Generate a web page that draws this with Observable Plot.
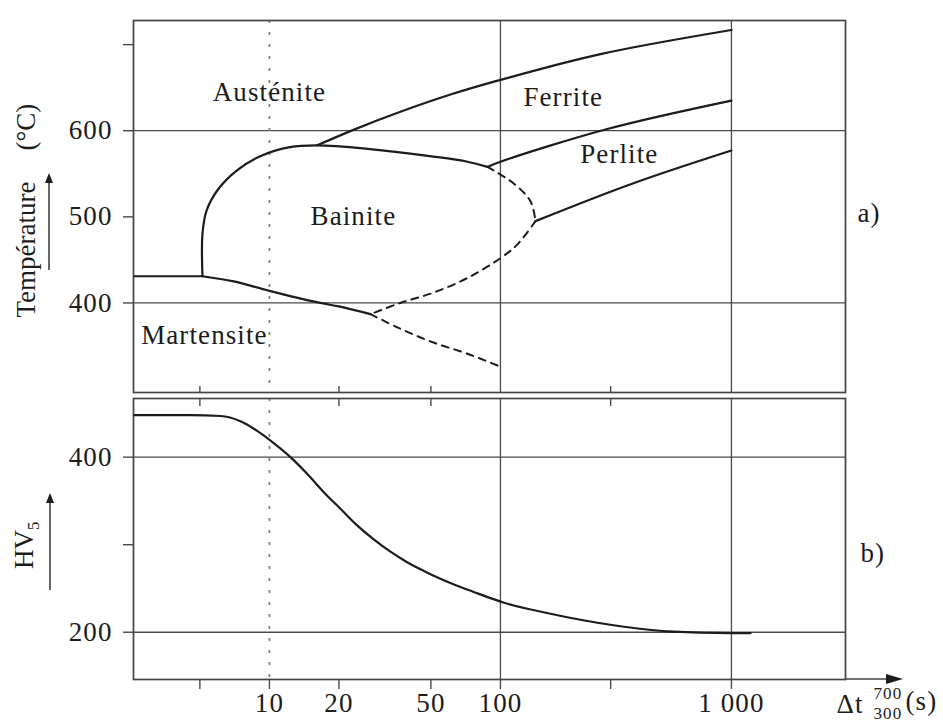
<!DOCTYPE html>
<html><head><meta charset="utf-8">
<script src="https://cdn.jsdelivr.net/npm/d3@7"></script>
<script src="https://cdn.jsdelivr.net/npm/@observablehq/plot@0.6"></script>
<style>
body{margin:0;background:#fff;}
#chart{position:relative;width:943px;height:725px;background:#fff;}
#chart svg{position:absolute;left:0;overflow:visible;}
#chart text{letter-spacing:1.1px;}
#chart text.rot{letter-spacing:0;}
</style></head><body><div id="chart"></div>
<script>
// ---- data ----
const xTickVals   = [5, 10, 20, 50, 100, 300, 1000];
const xLabelVals  = [10, 20, 50, 100, 1000];
const xLabelTexts = ["10", "20", "50", "100", "1 000"];
const innerTicks  = [5, 20, 50, 300];
const timeGrid    = [100, 1000];
const dottedTime  = [10];

const tempTickVals   = [400, 500, 600, 700];
const tempTickLabels = ["400", "500", "600", ""];
const tempGrid       = [400, 600];

const hvTickVals   = [200, 300, 400];
const hvTickLabels = ["200", "", "400"];
const hvGrid       = [200, 400];

// transformation lines (time s, temperature °C)
const msX = [2.6, 5.13];                 const msT = [431, 431];
const bsX = [5.13, 5.13, 5.34, 6.0, 7.24, 9.23, 12.27, 16.1, 26.6, 51.3, 72, 87.8];
const bsT = [431, 480, 507, 532, 554, 571, 581, 583, 579, 570, 564, 558];
const fsX = [16.1, 23.1, 36.9, 60.8, 100, 271, 1000];
const fsT = [583, 601, 622, 642, 659, 689, 717];
const psX = [87.8, 100, 290, 1000];      const psT = [558, 564, 602, 635];
const pfX = [141.8, 376.6, 1000];        const pfT = [495, 539, 577];
const mfX = [5.13, 7, 10, 16.6, 20, 27.4]; const mfT = [431, 425, 414, 400, 396, 387];
// dashed lines
const pbX = [87.8, 113.8, 134.9, 141.8]; const pbT = [558, 539, 518, 495];
const bfX = [141.8, 118.5, 100, 72, 51.3, 36.9, 27.4];
const bfT = [495, 468, 452, 429, 412, 400, 387];
const lowX = [27.4, 36.9, 51.3, 72, 102]; const lowT = [387, 370, 354, 341, 325];

// phase labels
const phaseNames = ["Austénite", "Ferrite", "Perlite", "Bainite", "Martensite"];
const phaseX = [10, 187, 327, 23.1, 5.23];
const phaseT = [645, 639, 572, 500, 362];

// hardness curve (HV5)
const hvX = [2.6, 4.55, 6.14, 7.49, 8.85, 10.44, 12.33, 14.56, 17.19, 20.3, 23.97, 28.28, 33.4,
             39.46, 46.6, 55.0, 64.9, 76.6, 90.5, 103, 159, 309, 528, 1000, 1210];
const hvY = [448, 448, 447, 441, 430, 416, 400, 381, 360, 341, 322, 306, 292,
             280, 270, 261, 253, 246, 239, 234, 222, 208, 201, 199, 199];

// ---- helpers ----
const pts = (xs, ys) => xs.map((x, i) => ({x, y: ys[i]}));
const INK = "#1c1c1c";
const GRID = "#4a4a4a";
const FONT = "Liberation Serif, Times New Roman, serif";
const xDomain = [2.58, 3117];

const curve = (xs, ys, c = "linear", extra = {}) =>
  Plot.line(pts(xs, ys), {x: "x", y: "y", stroke: INK, strokeWidth: 2.2, curve: c, ...extra});
const dashed = (xs, ys) => curve(xs, ys, "catmull-rom", {strokeDasharray: "7,6", strokeWidth: 2});
const dotted = () => Plot.ruleX(dottedTime, {stroke: "#808080", strokeWidth: 1.8, strokeDasharray: "3,9"});

const chart = document.getElementById("chart");

// ---- top panel ----
const topH = 395;
const topPlot = Plot.plot({
  width: 943, height: topH,
  marginTop: 20, marginBottom: 3, marginLeft: 133, marginRight: 98,
  x: {type: "log", domain: xDomain, axis: null},
  y: {domain: [296, 728], axis: null},
  style: {fontFamily: FONT, fontSize: "27px", color: INK, background: "transparent", overflow: "visible"},
  marks: [
    Plot.ruleY(tempGrid, {stroke: GRID, strokeWidth: 1.3}),
    Plot.ruleX(timeGrid, {stroke: GRID, strokeWidth: 1.3}),
    dotted(),
    Plot.ruleX(innerTicks, {stroke: GRID, strokeWidth: 1.4, insetTop: 366}),
    Plot.axisY({ticks: tempTickVals, tickFormat: d => tempTickLabels[tempTickVals.indexOf(d)], label: null,
                tickSize: 10, tickPadding: 11, stroke: GRID, strokeWidth: 1.4, fill: INK}),
    Plot.frame({stroke: "#444", strokeWidth: 1.7}),
    curve(msX, msT),
    curve(bsX, bsT, "catmull-rom"),
    curve(fsX, fsT, "catmull-rom"),
    curve(psX, psT, "catmull-rom"),
    curve(pfX, pfT, "catmull-rom"),
    curve(mfX, mfT, "catmull-rom"),
    dashed(pbX, pbT),
    dashed(bfX, bfT),
    dashed(lowX, lowT),
    Plot.text(phaseNames, {x: (d, i) => phaseX[i], y: (d, i) => phaseT[i], text: d => d, fill: INK}),
    Plot.text(["a)"], {frameAnchor: "right", dx: 12, dy: 7, textAnchor: "start", fill: INK}),
    Plot.text(["Température"], {frameAnchor: "left", dx: -107, dy: 111, rotate: -90,
                                textAnchor: "start", fill: INK}),
    Plot.text(["(°C)"], {frameAnchor: "left", dx: -107, dy: -56, rotate: -90,
                         textAnchor: "start", fill: INK})
  ]
});
topPlot.style.top = "0px";
chart.appendChild(topPlot);

// ---- bottom panel ----
const botTop = 395, botH = 330;
const botPlot = Plot.plot({
  width: 943, height: botH,
  marginTop: 3, marginBottom: 46, marginLeft: 133, marginRight: 98,
  x: {type: "log", domain: xDomain, axis: null},
  y: {domain: [146, 467], axis: null},
  style: {fontFamily: FONT, fontSize: "27px", color: INK, background: "transparent", overflow: "visible"},
  marks: [
    Plot.ruleY(hvGrid, {stroke: GRID, strokeWidth: 1.3}),
    Plot.ruleX(timeGrid, {stroke: GRID, strokeWidth: 1.3}),
    dotted(),
    Plot.ruleX(innerTicks, {stroke: GRID, strokeWidth: 1.4, insetBottom: 273}),
    Plot.axisY({ticks: hvTickVals, tickFormat: d => hvTickLabels[hvTickVals.indexOf(d)], label: null,
                tickSize: 10, tickPadding: 11, stroke: GRID, strokeWidth: 1.4, fill: INK}),
    Plot.axisX({ticks: xTickVals, tickFormat: () => "", label: null,
                tickSize: 10, stroke: GRID, strokeWidth: 1.4}),
    Plot.text(xLabelVals, {x: d => d, frameAnchor: "bottom", dy: 32,
                           text: (d, i) => xLabelTexts[i], fill: INK}),
    Plot.frame({stroke: "#444", strokeWidth: 1.7}),
    curve(hvX, hvY, "monotone-x"),
    Plot.text(["b)"], {frameAnchor: "right", dx: 15, dy: 14, textAnchor: "start", fill: INK}),
    Plot.text(["Δt"], {frameAnchor: "bottom-right", dx: -9, dy: 33, textAnchor: "start", fill: INK}),
    Plot.text(["700"], {frameAnchor: "bottom-right", dx: 28, dy: 19, textAnchor: "start", fill: INK, fontSize: 17}),
    Plot.text(["300"], {frameAnchor: "bottom-right", dx: 28, dy: 39, textAnchor: "start", fill: INK, fontSize: 17}),
    Plot.text(["(s)"], {frameAnchor: "bottom-right", dx: 60, dy: 30, textAnchor: "start", fill: INK})
  ]
});
botPlot.style.top = botTop + "px";
chart.appendChild(botPlot);

// rotated texts: no extra letter spacing
d3.selectAll("#chart text").filter(function() {
  const tr = this.getAttribute("transform") || "";
  return tr.includes("rotate");
}).classed("rot", true);

// HV5 label with subscript
{
  const svg = d3.select(botPlot);
  const t = svg.append("text").attr("class", "rot")
    .attr("transform", `translate(33,${569 - botTop}) rotate(-90)`)
    .attr("text-anchor", "start")
    .attr("font-family", FONT).attr("font-size", 27).attr("fill", INK);
  t.append("tspan").text("HV");
  t.append("tspan").attr("font-size", 17).attr("dy", 6).text("5");
}

// decorative axis-label arrows
function arrowUp(svg, x, y1, y2) {
  svg.append("line").attr("x1", x).attr("x2", x).attr("y1", y1).attr("y2", y2 + 8)
    .attr("stroke", "#333").attr("stroke-width", 1.5);
  svg.append("path").attr("d", `M${x},${y2} L${x - 4},${y2 + 10} L${x + 4},${y2 + 10} Z`).attr("fill", INK);
}
arrowUp(d3.select(topPlot), 49, 270, 173);
arrowUp(d3.select(botPlot), 50, 590 - botTop, 493 - botTop);

// x-axis extension arrow
{
  const svg = d3.select(botPlot);
  const y = botH - 46;
  svg.append("line").attr("x1", 845).attr("x2", 892).attr("y1", y).attr("y2", y)
    .attr("stroke", "#444").attr("stroke-width", 1.7);
  svg.append("path").attr("d", `M903,${y} L886,${y - 5} L886,${y + 5} Z`).attr("fill", INK);
}
</script></body></html>
